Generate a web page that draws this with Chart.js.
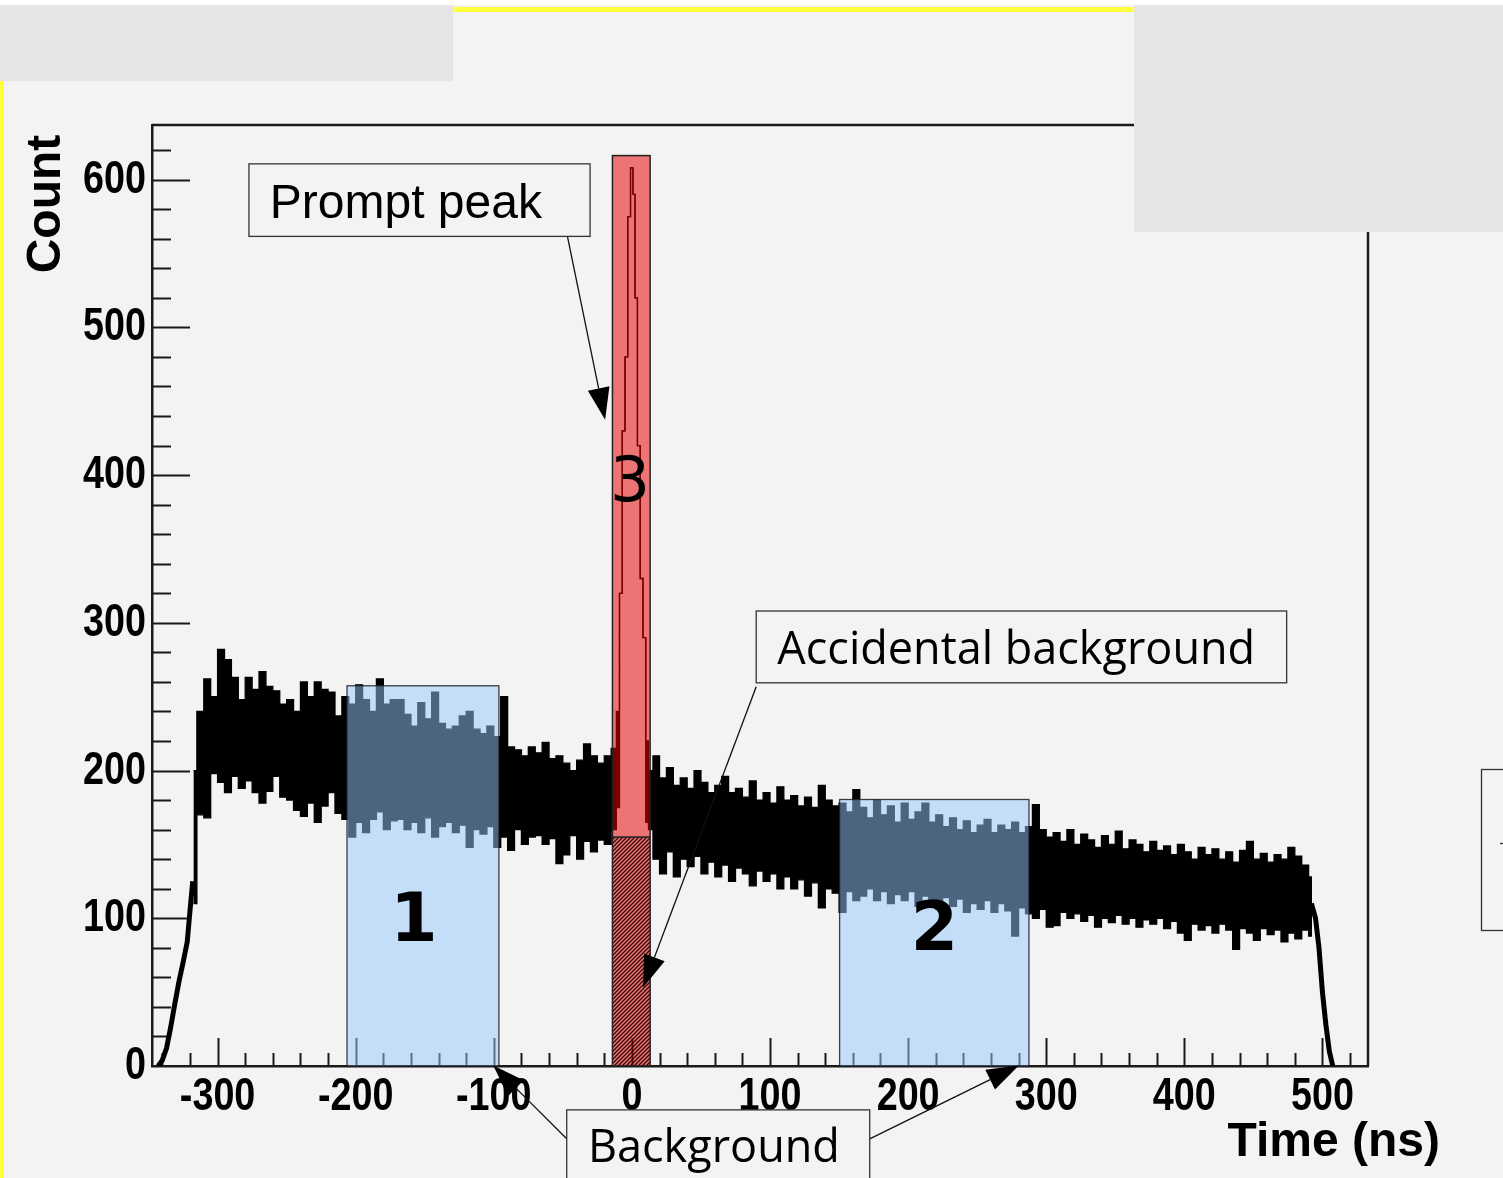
<!DOCTYPE html>
<html>
<head>
<meta charset="utf-8">
<title>Time spectrum</title>
<script src="https://cdn.jsdelivr.net/npm/chart.js@4.4.1/dist/chart.umd.min.js"></script>
<style>
  html, body { margin: 0; padding: 0; background: #f3f3f3; overflow: hidden; }
  #wrap { width: 1503px; height: 1178px; position: relative; }
</style>
</head>
<body>
<div id="wrap"><canvas id="timeChart"></canvas></div>
<script>
// bin centres (ns) of the coincidence time spectrum
const binTime = [
  -317.5,-312.5,-307.5,-302.5,-297.5,-292.5,-287.5,-282.5,-277.5,-272.5,
  -267.5,-262.5,-257.5,-252.5,-247.5,-242.5,-237.5,-232.5,-227.5,-222.5,
  -217.5,-212.5,-207.5,-202.5,-197.5,-192.5,-187.5,-182.5,-177.5,-172.5,
  -167.5,-162.5,-157.5,-152.5,-147.5,-142.5,-137.5,-132.5,-127.5,-122.5,
  -117.5,-112.5,-107.5,-102.5,-97.5,-92.5,-87.5,-82.5,-77.5,-72.5,
  -67.5,-62.5,-57.5,-52.5,-47.5,-42.5,-37.5,-32.5,-27.5,-22.5,
  -17.5,
  -12.5,-10,-8,-6,-4,-2,0,1.5,3,5,7,9,11,13,
  17.5,22.5,27.5,32.5,37.5,42.5,47.5,52.5,57.5,62.5,
  67.5,72.5,77.5,82.5,87.5,92.5,97.5,102.5,107.5,112.5,
  117.5,122.5,127.5,132.5,137.5,142.5,147.5,152.5,157.5,162.5,
  167.5,172.5,177.5,182.5,187.5,192.5,197.5,202.5,207.5,212.5,
  217.5,222.5,227.5,232.5,237.5,242.5,247.5,252.5,257.5,262.5,
  267.5,272.5,277.5,282.5,287.5,292.5,297.5,302.5,307.5,312.5,
  317.5,322.5,327.5,332.5,337.5,342.5,347.5,352.5,357.5,362.5,
  367.5,372.5,377.5,382.5,387.5,392.5,397.5,402.5,407.5,412.5,
  417.5,422.5,427.5,432.5,437.5,442.5,447.5,452.5,457.5,462.5,
  467.5,472.5,477.5,482.5,487.5,492.5
];
// upper edge of the noisy band (counts)
const bandHigh = [
  200,240,262,250,282,275,263,248,263,255,
  267,257,254,245,248,240,260,250,260,255,
  253,237,250,245,258,248,240,262,245,248,
  248,238,230,246,235,253,232,228,230,237,
  240,228,225,230,223,250,216,214,210,216,
  212,219,208,210,205,200,207,218,210,205,
  210,
  215,240,320,430,480,575,608,590,520,420,330,290,220,200,
  210,195,202,190,195,188,200,192,185,190,
  196,185,188,182,193,180,185,178,189,180,
  183,176,182,175,190,180,176,178,172,187,
  175,168,180,170,176,165,178,167,172,178,
  165,170,162,168,160,166,158,163,167,158,
  163,160,165,158,162,177,160,155,158,152,
  160,150,157,153,148,156,150,159,147,153,
  150,145,152,146,149,143,150,145,140,148,
  143,147,140,145,138,146,152,140,144,138,
  143,140,148,142,136,128
];
// lower edge of the noisy band (counts)
const bandLow = [
  110,170,168,198,192,185,196,188,193,185,
  178,186,196,182,180,173,169,178,165,176,
  185,171,167,155,165,158,167,172,160,166,
  167,160,165,158,168,155,162,165,158,163,
  148,160,157,162,148,155,146,160,150,155,
  156,150,154,137,143,156,140,152,145,153,
  150,
  160,175,320,430,480,575,608,590,520,420,330,290,165,160,
  140,130,145,128,140,135,142,130,138,128,
  136,125,134,130,122,132,125,130,120,128,
  120,126,115,124,107,120,117,104,118,112,
  115,120,112,118,110,116,112,118,108,115,
  112,106,114,108,113,104,110,106,112,104,
  110,105,88,107,103,100,106,94,95,104,
  100,103,98,102,94,100,97,102,96,100,
  94,99,96,100,93,98,90,85,96,92,
  95,90,96,92,79,93,90,85,93,89,
  92,84,90,86,92,88
];
// rising and falling edges of the spectrum
const riseTime = [-343, -340, -337, -334, -331, -328, -325, -322, -320, -318];
const riseCount = [0, 4, 12, 26, 42, 57, 70, 84, 105, 125];
const fallTime = [492, 495, 497.5, 500, 502.5, 505, 507.5];
const fallCount = [110, 100, 80, 50, 28, 10, 0];

// time windows (ns) and their heights (counts)
const windowNames = ['1', '2', '3'];
const windowStart = [-206.3, 150.4, -14.1];
const windowEnd = [-96.3, 287.5, 13.2];
const windowTop = [257.4, 180.4, 616.3];
const accidentalLevel = 155;

const xTicks = [-300, -200, -100, 0, 100, 200, 300, 400, 500];
const yTicks = [0, 100, 200, 300, 400, 500, 600];

const BG = '#f3f3f3';
const labelFont = "bold 46px 'Liberation Sans', Arial, sans-serif";

function hatch(ctx) {
  const c = document.createElement('canvas');
  c.width = 4; c.height = 4;
  const g = c.getContext('2d');
  g.strokeStyle = 'rgba(45,0,0,0.95)';
  g.lineWidth = 1.3;
  g.beginPath();
  g.moveTo(-1, 5); g.lineTo(5, -1);
  g.moveTo(-1, 1); g.lineTo(1, -1);
  g.moveTo(3, 5); g.lineTo(5, 3);
  g.stroke();
  return ctx.createPattern(c, 'repeat');
}

function arrow(ctx, x0, y0, x1, y1) {
  const a = Math.atan2(y1 - y0, x1 - x0);
  const len = 32, half = 11;
  const bx = x1 - len * Math.cos(a), by = y1 - len * Math.sin(a);
  ctx.beginPath(); ctx.moveTo(x0, y0); ctx.lineTo(bx, by); ctx.stroke();
  ctx.beginPath();
  ctx.moveTo(x1, y1);
  ctx.lineTo(bx + half * Math.sin(a), by - half * Math.cos(a));
  ctx.lineTo(bx - half * Math.sin(a), by + half * Math.cos(a));
  ctx.closePath(); ctx.fill();
}

function labelBox(ctx, x0, y0, x1, y1, text, tx, ty, font) {
  ctx.fillStyle = BG;
  ctx.fillRect(x0, y0, x1 - x0, y1 - y0);
  ctx.strokeStyle = '#333';
  ctx.lineWidth = 1.3;
  ctx.strokeRect(x0, y0, x1 - x0, y1 - y0);
  ctx.fillStyle = '#000';
  ctx.font = font;
  ctx.textAlign = 'left';
  ctx.textBaseline = 'alphabetic';
  ctx.fillText(text, tx, ty);
}

// narrow bold labels like ROOT's, squeezed horizontally
function narrowText(ctx, text, x, y, align) {
  ctx.save();
  ctx.translate(x, y);
  ctx.scale(0.82, 1);
  ctx.textAlign = align;
  ctx.fillText(text, 0, 0);
  ctx.restore();
}

const pagePlugin = {
  id: 'page',
  beforeDraw(chart) {
    const ctx = chart.ctx;
    ctx.save();
    ctx.fillStyle = BG;
    ctx.fillRect(0, 0, chart.width, chart.height);
    ctx.fillStyle = '#fff';
    ctx.fillRect(0, 0, chart.width, 5);
    ctx.restore();
  },
  beforeDatasetsDraw(chart) {
    // ROOT style ticks pointing into the frame
    const { ctx, chartArea: a, scales: { x, y } } = chart;
    ctx.save();
    ctx.strokeStyle = '#1a1a1a';
    ctx.lineWidth = 2;
    ctx.beginPath();
    for (let v = -340; v <= 520; v += 20) {
      const px = Math.round(x.getPixelForValue(v)) + 0.5;
      const l = v % 100 === 0 ? 28 : 13;
      ctx.moveTo(px, a.bottom); ctx.lineTo(px, a.bottom - l);
    }
    for (let v = 20; v <= 620; v += 20) {
      const py = Math.round(y.getPixelForValue(v)) + 0.5;
      const l = v % 100 === 0 ? 38 : 19;
      ctx.moveTo(a.left, py); ctx.lineTo(a.left + l, py);
    }
    ctx.stroke();
    ctx.lineWidth = 2.5;
    ctx.beginPath();
    ctx.moveTo(a.left, a.top); ctx.lineTo(a.right, a.top); ctx.lineTo(a.right, a.bottom);
    ctx.stroke();
    // tick labels from the scales' own ticks
    ctx.fillStyle = '#000';
    ctx.font = labelFont;
    ctx.textBaseline = 'alphabetic';
    x.ticks.forEach(t => narrowText(ctx, String(t.value), x.getPixelForValue(t.value), a.bottom + 44, 'center'));
    y.ticks.forEach(t => narrowText(ctx, String(t.value), a.left - 6, y.getPixelForValue(t.value) + 13, 'right'));
    ctx.restore();
  },
  afterDatasetsDraw(chart) {
    const { ctx, scales: { x, y } } = chart;
    const X = v => x.getPixelForValue(v), Y = v => y.getPixelForValue(v);
    ctx.save();
    // background windows 1 and 2
    for (let i = 0; i < 2; i++) {
      const x0 = X(windowStart[i]), x1 = X(windowEnd[i]), y0 = Y(windowTop[i]), y1 = Y(0);
      ctx.fillStyle = 'rgba(150,202,255,0.5)';
      ctx.fillRect(x0, y0, x1 - x0, y1 - y0);
      ctx.strokeStyle = 'rgba(30,30,30,0.85)';
      ctx.lineWidth = 1.3;
      ctx.strokeRect(x0, y0, x1 - x0, y1 - y0);
    }
    // prompt window 3 with the accidental part hatched
    {
      const x0 = X(windowStart[2]), x1 = X(windowEnd[2]), y0 = Y(windowTop[2]), y1 = Y(0), yh = Y(accidentalLevel);
      ctx.fillStyle = 'rgba(230,0,0,0.52)';
      ctx.fillRect(x0, y0, x1 - x0, y1 - y0);
      ctx.fillStyle = hatch(ctx);
      ctx.fillRect(x0, yh, x1 - x0, y1 - yh);
      ctx.strokeStyle = '#222';
      ctx.lineWidth = 1.5;
      ctx.strokeRect(x0, y0, x1 - x0, y1 - y0);
      ctx.beginPath(); ctx.moveTo(x0, yh); ctx.lineTo(x1, yh); ctx.stroke();
    }
    // window numbers
    ctx.fillStyle = '#000';
    ctx.textAlign = 'center';
    ctx.textBaseline = 'middle';
    ctx.font = "bold 68px 'DejaVu Sans'";
    ctx.fillText(windowNames[0], X(-157.9), Y(96.6));
    ctx.fillText(windowNames[1], X(219.1), Y(90.5));
    ctx.font = "63px 'DejaVu Sans'";
    ctx.fillText(windowNames[2], X(-1.3), Y(393.3));

    // annotation boxes and arrows
    ctx.strokeStyle = '#111';
    ctx.fillStyle = '#000';
    ctx.lineWidth = 1.3;
    arrow(ctx, X(-47.2), Y(563.9), X(-19.4), Y(437.4));
    arrow(ctx, X(90), Y(256.7), X(8.1), Y(53.2));
    arrow(ctx, X(-47.2), Y(-49.3), X(-100.4), Y(0.3));
    arrow(ctx, X(172.2), Y(-49.3), X(280.2), Y(0.3));
    labelBox(ctx, X(-277.3), Y(610.7), X(-30.3), Y(561.6), 'Prompt peak', X(-262.2), Y(574), "48px 'Liberation Sans'");
    labelBox(ctx, X(90), Y(308), X(474.1), Y(259.4), 'Accidental background', X(105.3), Y(271.9), "45px 'Open Sans'");
    labelBox(ctx, X(-47.2), Y(-29.7), X(172.2), Y(-90), 'Background', X(-31.8), Y(-65.2), "45px 'Open Sans'");
    ctx.restore();
  },
  afterDraw(chart) {
    const ctx = chart.ctx;
    const a = chart.chartArea;
    ctx.save();
    // axis titles
    ctx.fillStyle = '#000';
    ctx.font = "bold 48px 'Liberation Sans'";
    ctx.textBaseline = 'alphabetic';
    ctx.textAlign = 'right';
    ctx.fillText('Time (ns)', a.right + 72, a.bottom + 90);
    ctx.save();
    ctx.translate(a.left - 92, a.top + 79);
    ctx.rotate(-Math.PI / 2);
    ctx.textAlign = 'center';
    ctx.fillText('Count', 0, 0);
    ctx.restore();
    // slide frame around the plot
    ctx.fillStyle = '#e5e5e5';
    ctx.fillRect(0, 5, 453, 76);
    ctx.fillRect(1134, 5, chart.width - 1134, 227);
    ctx.fillStyle = '#ffff3c';
    ctx.fillRect(453, 7, 681, 5);
    ctx.fillRect(0, 81, 4, chart.height - 81);
    ctx.strokeStyle = '#333';
    ctx.lineWidth = 1.3;
    ctx.strokeRect(1481.5, 769.5, 40, 161);
    ctx.beginPath(); ctx.moveTo(1500, 843.5); ctx.lineTo(1503, 843.5); ctx.stroke();
    ctx.restore();
  }
};

const edgePoints = riseTime.map((t, i) => ({ x: t, y: riseCount[i] }))
  .concat([{ x: 0, y: null }])
  .concat(fallTime.map((t, i) => ({ x: t, y: fallCount[i] })));

const lineStyle = { borderColor: '#000', borderWidth: 1.3, pointRadius: 0, stepped: 'middle' };

new Chart(document.getElementById('timeChart'), {
  type: 'line',
  data: {
    datasets: [
      Object.assign({ label: 'upper', data: binTime.map((t, i) => ({ x: t, y: bandHigh[i] })), fill: '+1', backgroundColor: '#000' }, lineStyle),
      Object.assign({ label: 'lower', data: binTime.map((t, i) => ({ x: t, y: bandLow[i] })), fill: false }, lineStyle),
      { label: 'edges', data: edgePoints, borderColor: '#000', borderWidth: 5, pointRadius: 0, fill: false, spanGaps: false }
    ]
  },
  options: {
    responsive: true,
    maintainAspectRatio: false,
    animation: false,
    layout: { padding: { top: 125, right: 135, left: 0, bottom: 0 } },
    plugins: { legend: { display: false }, tooltip: { enabled: false } },
    scales: {
      x: {
        type: 'linear',
        min: -347.5,
        max: 533,
        grid: { display: false, drawTicks: false },
        border: { display: true, color: '#1a1a1a', width: 2.5 },
        ticks: { display: false, autoSkip: false },
        afterBuildTicks: s => { s.ticks = xTicks.map(v => ({ value: v })); },
        afterFit: s => { s.height = 112; }
      },
      y: {
        type: 'linear',
        min: 0,
        max: 637,
        grid: { display: false, drawTicks: false },
        border: { display: true, color: '#1a1a1a', width: 2.5 },
        ticks: { display: false, autoSkip: false },
        afterBuildTicks: s => { s.ticks = yTicks.map(v => ({ value: v })); },
        afterFit: s => { s.width = 152; }
      }
    }
  },
  plugins: [pagePlugin]
});
</script>
</body>
</html>
